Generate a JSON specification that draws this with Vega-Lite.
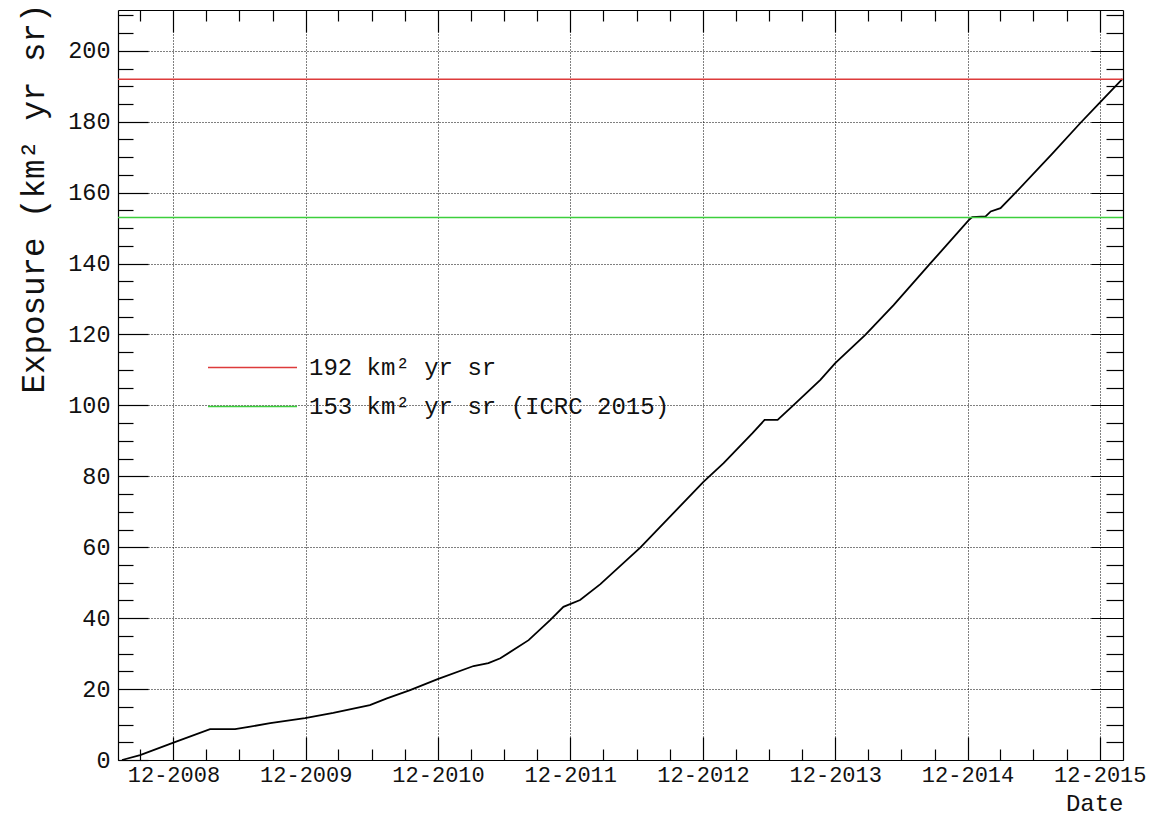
{
  "$schema": "https://vega.github.io/schema/vega-lite/v6.json",
  "width": 1005,
  "height": 750,
  "autosize": "none",
  "padding": {"left": 118, "top": 10, "right": 46, "bottom": 58},
  "background": "white",
  "config": {
    "view": {"stroke": null},
    "font": "Liberation Mono",
    "axis": {
      "labelFont": "Liberation Mono",
      "titleFont": "Liberation Mono",
      "labelFontSize": 23.5,
      "titleFontSize": 32.5,
      "titleFontWeight": "normal",
      "labelColor": "#111",
      "titleColor": "#111",
      "domainColor": "black",
      "domainWidth": 1.2,
      "tickColor": "black",
      "tickWidth": 1.2,
      "gridColor": "black",
      "gridDash": [1, 2],
      "gridWidth": 1
    }
  },
  "layer": [
    {
      "data": {
        "values": [
          {"date": "2008-07-12", "exposure": 0},
          {"date": "2008-08-31", "exposure": 1.4},
          {"date": "2008-12-01", "exposure": 4.9},
          {"date": "2009-03-12", "exposure": 8.7},
          {"date": "2009-05-20", "exposure": 8.7},
          {"date": "2009-07-01", "exposure": 9.4},
          {"date": "2009-08-25", "exposure": 10.4},
          {"date": "2009-11-29", "exposure": 11.8},
          {"date": "2010-02-15", "exposure": 13.3},
          {"date": "2010-05-27", "exposure": 15.5},
          {"date": "2010-07-13", "exposure": 17.4},
          {"date": "2010-09-15", "exposure": 19.7},
          {"date": "2010-11-30", "exposure": 22.8},
          {"date": "2011-03-09", "exposure": 26.5},
          {"date": "2011-04-19", "exposure": 27.3},
          {"date": "2011-05-22", "exposure": 28.7},
          {"date": "2011-08-08", "exposure": 33.8},
          {"date": "2011-10-07", "exposure": 39.5},
          {"date": "2011-11-12", "exposure": 43.2},
          {"date": "2011-12-28", "exposure": 45.1},
          {"date": "2012-02-22", "exposure": 49.6},
          {"date": "2012-06-11", "exposure": 59.9},
          {"date": "2012-12-03", "exposure": 78.5},
          {"date": "2013-01-27", "exposure": 83.7},
          {"date": "2013-04-16", "exposure": 92.1},
          {"date": "2013-05-20", "exposure": 95.9},
          {"date": "2013-06-25", "exposure": 95.9},
          {"date": "2013-08-08", "exposure": 100.1},
          {"date": "2013-10-21", "exposure": 107.2},
          {"date": "2013-12-01", "exposure": 111.9},
          {"date": "2014-02-22", "exposure": 119.9},
          {"date": "2014-05-11", "exposure": 128.3},
          {"date": "2014-08-21", "exposure": 140.1},
          {"date": "2014-12-05", "exposure": 152.3},
          {"date": "2014-12-14", "exposure": 153.1},
          {"date": "2015-01-20", "exposure": 153.3},
          {"date": "2015-02-03", "exposure": 154.7},
          {"date": "2015-03-02", "exposure": 155.6},
          {"date": "2015-04-12", "exposure": 159.9},
          {"date": "2015-07-23", "exposure": 171.0},
          {"date": "2015-10-09", "exposure": 179.7},
          {"date": "2015-12-01", "exposure": 185.4},
          {"date": "2016-02-01", "exposure": 192.0}
        ]
      },
      "mark": {"type": "line", "color": "black", "strokeWidth": 1.8},
      "encoding": {
        "x": {
          "field": "date",
          "type": "temporal",
          "scale": {"domain": [{"year": 2008, "month": 7, "date": 1}, {"year": 2016, "month": 2, "date": 3}]},
          "axis": {
            "orient": "bottom",
            "title": "Date",
            "titleAnchor": "end",
            "titleY": 50.5,
            "titleFontSize": 24,
            "titleBaseline": "alphabetic",
            "format": "%m-%Y",
            "values": [
              {"year": 2008, "month": 9, "date": 1}, {"year": 2008, "month": 12, "date": 1},
              {"year": 2009, "month": 3, "date": 1}, {"year": 2009, "month": 6, "date": 1}, {"year": 2009, "month": 9, "date": 1}, {"year": 2009, "month": 12, "date": 1},
              {"year": 2010, "month": 3, "date": 1}, {"year": 2010, "month": 6, "date": 1}, {"year": 2010, "month": 9, "date": 1}, {"year": 2010, "month": 12, "date": 1},
              {"year": 2011, "month": 3, "date": 1}, {"year": 2011, "month": 6, "date": 1}, {"year": 2011, "month": 9, "date": 1}, {"year": 2011, "month": 12, "date": 1},
              {"year": 2012, "month": 3, "date": 1}, {"year": 2012, "month": 6, "date": 1}, {"year": 2012, "month": 9, "date": 1}, {"year": 2012, "month": 12, "date": 1},
              {"year": 2013, "month": 3, "date": 1}, {"year": 2013, "month": 6, "date": 1}, {"year": 2013, "month": 9, "date": 1}, {"year": 2013, "month": 12, "date": 1},
              {"year": 2014, "month": 3, "date": 1}, {"year": 2014, "month": 6, "date": 1}, {"year": 2014, "month": 9, "date": 1}, {"year": 2014, "month": 12, "date": 1},
              {"year": 2015, "month": 3, "date": 1}, {"year": 2015, "month": 6, "date": 1}, {"year": 2015, "month": 9, "date": 1}, {"year": 2015, "month": 12, "date": 1}
            ],
            "labelExpr": "month(datum.value) == 11 ? datum.label : ''",
            "labelFontSize": 22,
            "labelPadding": 27,
            "labelOverlap": false,
            "tickSize": {"condition": {"test": "month(datum.value) == 11", "value": -23}, "value": -11},
            "grid": true,
            "gridOpacity": {"condition": {"test": "month(datum.value) == 11", "value": 1}, "value": 0}
          }
        },
        "y": {
          "field": "exposure",
          "type": "quantitative",
          "scale": {"domain": [0, 211.5], "nice": false, "zero": false},
          "axis": {
            "orient": "left",
            "title": "Exposure (km² yr sr)",
            "titleAnchor": "end",
            "titleX": -75,
            "titleY": -7,
            "titleBaseline": "alphabetic",
            "values": [0, 5, 10, 15, 20, 25, 30, 35, 40, 45, 50, 55, 60, 65, 70, 75, 80, 85, 90, 95, 100, 105, 110, 115, 120, 125, 130, 135, 140, 145, 150, 155, 160, 165, 170, 175, 180, 185, 190, 195, 200, 205, 210],
            "labelExpr": "datum.value % 20 == 0 ? datum.label : ''",
            "labelPadding": 38,
            "labelOverlap": false,
            "tickSize": {"condition": {"test": "datum.value % 20 == 0", "value": -30}, "value": -15},
            "grid": true,
            "gridOpacity": {"condition": {"test": "datum.value % 20 == 0", "value": 1}, "value": 0}
          }
        }
      }
    },
    {
      "data": {
        "values": [
          {"label": "192 km² yr sr", "exposure": 192},
          {"label": "153 km² yr sr (ICRC 2015)", "exposure": 153}
        ]
      },
      "mark": {"type": "rule", "strokeWidth": 1.5},
      "encoding": {
        "x": {
          "datum": {"year": 2008, "month": 7, "date": 1},
          "type": "temporal",
          "axis": {
            "orient": "top",
            "title": null,
            "values": [
              {"year": 2008, "month": 9, "date": 1}, {"year": 2008, "month": 12, "date": 1},
              {"year": 2009, "month": 3, "date": 1}, {"year": 2009, "month": 6, "date": 1}, {"year": 2009, "month": 9, "date": 1}, {"year": 2009, "month": 12, "date": 1},
              {"year": 2010, "month": 3, "date": 1}, {"year": 2010, "month": 6, "date": 1}, {"year": 2010, "month": 9, "date": 1}, {"year": 2010, "month": 12, "date": 1},
              {"year": 2011, "month": 3, "date": 1}, {"year": 2011, "month": 6, "date": 1}, {"year": 2011, "month": 9, "date": 1}, {"year": 2011, "month": 12, "date": 1},
              {"year": 2012, "month": 3, "date": 1}, {"year": 2012, "month": 6, "date": 1}, {"year": 2012, "month": 9, "date": 1}, {"year": 2012, "month": 12, "date": 1},
              {"year": 2013, "month": 3, "date": 1}, {"year": 2013, "month": 6, "date": 1}, {"year": 2013, "month": 9, "date": 1}, {"year": 2013, "month": 12, "date": 1},
              {"year": 2014, "month": 3, "date": 1}, {"year": 2014, "month": 6, "date": 1}, {"year": 2014, "month": 9, "date": 1}, {"year": 2014, "month": 12, "date": 1},
              {"year": 2015, "month": 3, "date": 1}, {"year": 2015, "month": 6, "date": 1}, {"year": 2015, "month": 9, "date": 1}, {"year": 2015, "month": 12, "date": 1}
            ],
            "labels": false,
            "grid": false,
            "tickSize": {"condition": {"test": "month(datum.value) == 11", "value": -22}, "value": -11}
          }
        },
        "x2": {"datum": {"year": 2016, "month": 2, "date": 3}},
        "y": {
          "field": "exposure",
          "type": "quantitative",
          "axis": {
            "orient": "right",
            "title": null,
            "values": [0, 5, 10, 15, 20, 25, 30, 35, 40, 45, 50, 55, 60, 65, 70, 75, 80, 85, 90, 95, 100, 105, 110, 115, 120, 125, 130, 135, 140, 145, 150, 155, 160, 165, 170, 175, 180, 185, 190, 195, 200, 205, 210],
            "labels": false,
            "grid": false,
            "tickSize": {"condition": {"test": "datum.value % 20 == 0", "value": -32}, "value": -17}
          }
        },
        "color": {
          "field": "label",
          "type": "nominal",
          "scale": {
            "domain": ["192 km² yr sr", "153 km² yr sr (ICRC 2015)"],
            "range": ["#dd3b3b", "#3ccf3c"]
          },
          "legend": {
            "title": null,
            "orient": "none",
            "legendX": 89,
            "legendY": 339,
            "padding": 0,
            "symbolType": "stroke",
            "symbolSize": 7921,
            "symbolStrokeWidth": 1.5,
            "labelFont": "Liberation Mono",
            "labelFontSize": 24,
            "labelColor": "#111",
            "labelOffset": 11,
            "labelLimit": 0,
            "clipHeight": 37,
            "rowPadding": 2
          }
        }
      }
    }
  ],
  "resolve": {"axis": {"x": "independent", "y": "independent"}}
}
